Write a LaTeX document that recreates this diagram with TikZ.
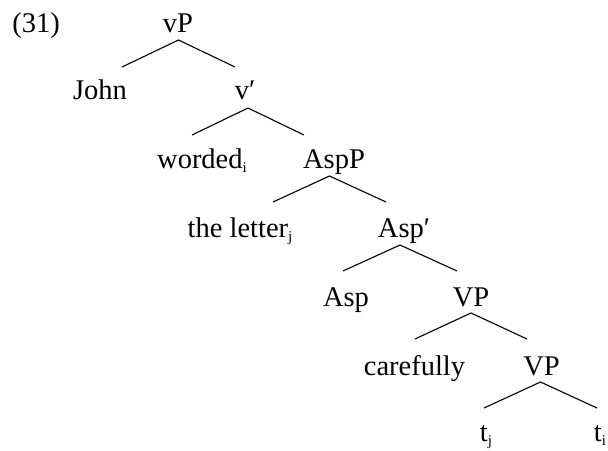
\documentclass[tikz,border=0pt]{standalone}
\usepackage{fontspec}
\setmainfont{Liberation Serif}
% small lowered index for traces and moved constituents
\newcommand{\idx}[1]{\raisebox{-0.15em}{\fontsize{15}{15}\selectfont #1}}
\begin{document}
\begin{tikzpicture}[x=1pt,y=1pt,
  lab/.style={anchor=base,inner sep=0pt,font=\fontsize{28.5}{31}\selectfont},
  branch/.style={line width=1.1pt}]
\useasboundingbox (0,0) rectangle (608,-450);

% labels (placed on their baselines)
\node[lab] (ex)     at (36,-32)    {(31)};
\node[lab] (vP)     at (178,-32)   {vP};
\node[lab] (John)   at (100,-99)   {John};
\node[lab] (vbar)   at (245,-99)   {v′};
\node[lab] (worded) at (202,-168)  {worded\idx{i}};
\node[lab] (AspP)   at (334,-168)  {AspP};
\node[lab] (letter) at (240,-237)  {the letter\idx{j}};
\node[lab] (Aspbar) at (404,-237)  {Asp′};
\node[lab] (Asp)    at (346,-306)  {Asp};
\node[lab] (VPa)    at (471,-306)  {VP};
\node[lab] (care)   at (414.5,-375){carefully};
\node[lab] (VPb)    at (541.5,-375){VP};
\node[lab] (tj)     at (486,-441)  {t\idx{j}};
\node[lab] (ti)     at (600,-441)  {t\idx{i}};

% lower ends of the branches
\coordinate (vP-l)     at (122,-67);
\coordinate (vP-r)     at (235,-67);
\coordinate (vbar-l)   at (192,-135);
\coordinate (vbar-r)   at (304,-135);
\coordinate (AspP-l)   at (273,-202);
\coordinate (AspP-r)   at (386,-202);
\coordinate (Aspbar-l) at (343,-271);
\coordinate (Aspbar-r) at (457,-271);
\coordinate (VPa-l)    at (415,-339);
\coordinate (VPa-r)    at (527,-339);
\coordinate (VPb-l)    at (484,-408);
\coordinate (VPb-r)    at (597,-408);

% branches
\draw[branch] (vP-l) -- ([xshift=0.5pt,yshift=-8pt]vP.base) -- (vP-r);
\draw[branch] (vbar-l) -- ([xshift=3pt,yshift=-9pt]vbar.base) -- (vbar-r);
\draw[branch] (AspP-l) -- ([xshift=-4.5pt,yshift=-8pt]AspP.base) -- (AspP-r);
\draw[branch] (Aspbar-l) -- ([xshift=-4pt,yshift=-8pt]Aspbar.base) -- (Aspbar-r);
\draw[branch] (VPa-l) -- ([yshift=-7pt]VPa.base) -- (VPa-r);
\draw[branch] (VPb-l) -- ([xshift=-1pt,yshift=-7pt]VPb.base) -- (VPb-r);
\end{tikzpicture}
\end{document}
